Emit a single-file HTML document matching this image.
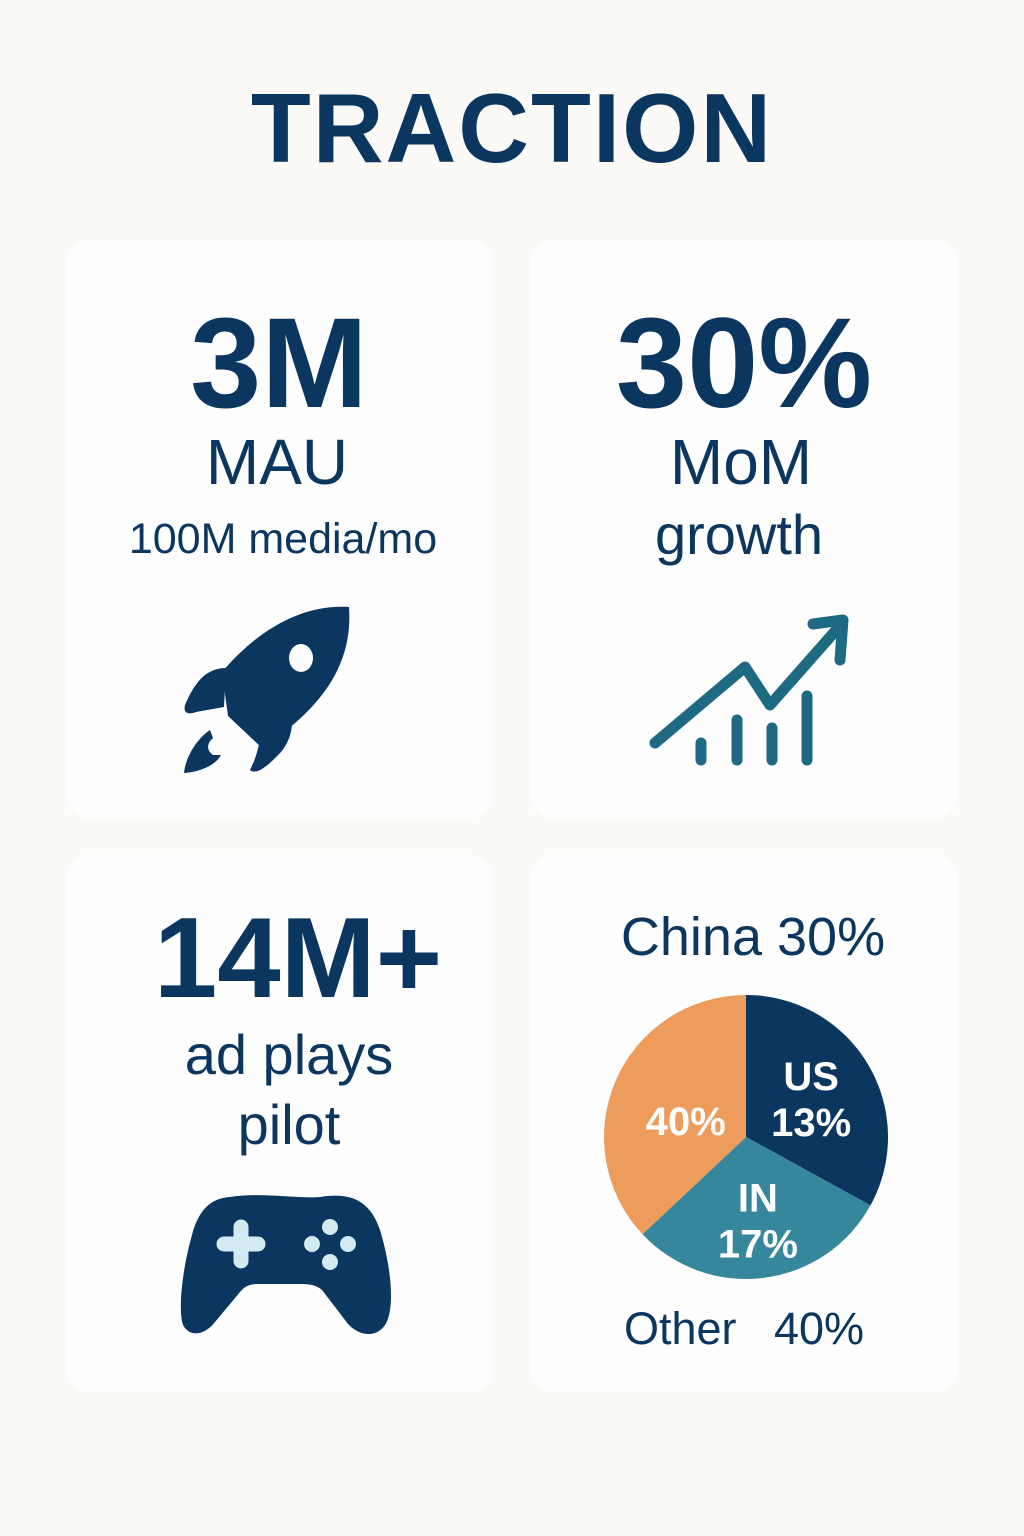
<!DOCTYPE html>
<html><head><meta charset="utf-8"><style>
body{margin:0;width:1024px;height:1536px;background:#fbfaf6;font-family:"Liberation Sans",sans-serif;color:#0b3660;position:relative;overflow:hidden}
.t{position:absolute;white-space:nowrap;text-align:center;transform:translateX(-50%)}
.card{position:absolute;background:#fefefe;border-radius:22px}
</style></head><body>
<div class="t" style="left:512px;top:72px;font-size:98px;font-weight:bold;letter-spacing:2px">TRACTION</div>
<div class="card" style="left:66px;top:240px;width:426px;height:578px"></div>
<div class="card" style="left:530px;top:240px;width:428px;height:578px"></div>
<div class="card" style="left:66px;top:855px;width:426px;height:537px"></div>
<div class="card" style="left:530px;top:855px;width:428px;height:537px"></div>

<div class="t" style="left:279px;top:290px;font-size:128px;font-weight:bold">3M</div>
<div class="t" style="left:277px;top:425px;font-size:64px">MAU</div>
<div class="t" style="left:283px;top:515px;font-size:43px">100M media/mo</div>
<div class="t" style="left:744px;top:290px;font-size:128px;font-weight:bold">30%</div>
<div class="t" style="left:741px;top:425px;font-size:64px">MoM</div>
<div class="t" style="left:739px;top:502px;font-size:56px">growth</div>
<div class="t" style="left:298px;top:893px;font-size:114px;font-weight:bold">14M+</div>
<div class="t" style="left:289px;top:1022px;font-size:56px">ad plays</div>
<div class="t" style="left:289px;top:1092px;font-size:56px">pilot</div>
<div class="t" style="left:753px;top:906px;font-size:54px">China 30%</div>
<div class="t" style="left:744px;top:1303px;font-size:45px">Other&nbsp;&nbsp; 40%</div>

<svg width="1024" height="1536" style="position:absolute;left:0;top:0">
<g fill="#0b3660">
<path d="M349 607 C353 665 322 708 262 748 L228 716 L222 672 C256 632 300 604 349 607 Z"/>
<path d="M226 668 C205 668 194 684 185 705 C183 713 188 715 196 712 L224 707 Z"/>
<path d="M262 720 C261 745 255 760 250 770 C256 775 266 768 281 752 C291 740 293 727 292 712 Z"/>
<path d="M210 730 C195 740 185 760 184 773 C200 772 216 765 221 755 L213 755 C207 751 206 744 213 738 Z"/>
<ellipse cx="301" cy="658" rx="12" ry="14" fill="#fefefe"/>
</g>
<g stroke="#1f6a83" stroke-width="11" stroke-linecap="round" stroke-linejoin="round" fill="none">
<polyline points="655,743 745,667 770,705 838,628"/>
<polyline points="813,624 843,620 840,660"/>
<line x1="701" y1="743" x2="701" y2="760"/><line x1="737" y1="720" x2="737" y2="760"/>
<line x1="772" y1="728" x2="772" y2="760"/><line x1="807" y1="696" x2="807" y2="760"/>
</g>
<g>
<path fill="#0b3660" d="M230 1197 C260 1192 300 1199 320 1197 C350 1192 370 1200 380 1230 C392 1270 395 1310 385 1325 C375 1340 355 1335 345 1320 L322 1290 C316 1285 310 1284 300 1284 L258 1284 C250 1284 245 1286 240 1292 L215 1322 C205 1335 190 1338 183 1325 C178 1310 182 1270 192 1235 C200 1205 215 1198 230 1197 Z"/>
<g stroke="#d3eaf3" stroke-width="15" stroke-linecap="round"><line x1="224" y1="1244" x2="258" y2="1244"/><line x1="241" y1="1227" x2="241" y2="1261"/></g>
<g fill="#d3eaf3"><circle cx="330" cy="1227" r="8"/><circle cx="312" cy="1244" r="8"/><circle cx="348" cy="1244" r="8"/><circle cx="330" cy="1262" r="8"/></g>
</g>
<g id="pie"></g>
</svg>
<script>
const sliceNames=["US","IN","Other"];
const sliceValues=[33,30,37];
const sliceLabels=[["US","13%"],["IN","17%"],["40%"]];
const sliceColors=["#0b3660","#37879c","#ee9c5c"];
const cx=746,cy=1137,r=142;
const g=document.getElementById('pie');
const total=sliceValues.reduce((a,b)=>a+b,0);
const ang=v=>v/total*2*Math.PI;
const dx=[4,3,5], dy=[-2,13,12];
let a0=0;
const NS="http://www.w3.org/2000/svg";
sliceValues.forEach((v,i)=>{
  const a1=a0+ang(v);
  const p=(a)=>[cx+r*Math.sin(a),cy-r*Math.cos(a)];
  const [x0,y0]=p(a0),[x1,y1]=p(a1);
  const path=document.createElementNS(NS,'path');
  path.setAttribute('d',`M${cx},${cy} L${x0},${y0} A${r},${r} 0 ${a1-a0>Math.PI?1:0} 1 ${x1},${y1} Z`);
  path.setAttribute('fill',sliceColors[i]);
  
  
  g.appendChild(path);
  const am=(a0+a1)/2, lr=r*0.5;
  const lx=cx+lr*Math.sin(am), ly=cy-lr*Math.cos(am);
  const lines=sliceLabels[i];
  lines.forEach((s,j)=>{
    const t=document.createElementNS(NS,'text');
    t.setAttribute('x',lx+dx[i]);
    t.setAttribute('y',ly+(j-(lines.length-1)/2)*46+14+dy[i]);
    t.setAttribute('text-anchor','middle');
    t.setAttribute('fill','#fff');
    t.setAttribute('font-size','40');
    t.setAttribute('font-weight','bold');
    t.setAttribute('font-family','Liberation Sans, sans-serif');
    t.textContent=s;
    
    
    g.appendChild(t);
  });
  a0=a1;
});
</script>
</body></html>
